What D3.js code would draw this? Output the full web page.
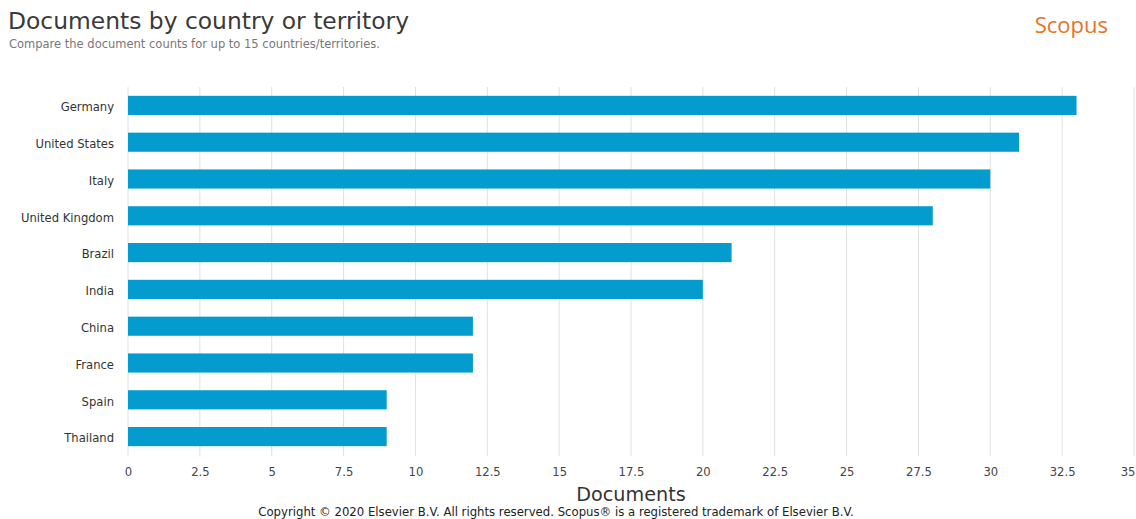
<!DOCTYPE html>
<html>
<head>
<meta charset="utf-8">
<script src="https://cdn.jsdelivr.net/npm/d3@7"></script>
<style>
  html, body { margin: 0; padding: 0; background: #fff; }
  svg { display: block; }
</style>
</head>
<body>
<svg id="chart" width="1136" height="519"></svg>
<script>
// Document counts per country or territory
const countries = ["Germany", "United States", "Italy", "United Kingdom", "Brazil",
                   "India", "China", "France", "Spain", "Thailand"];
const documents = [33, 31, 30, 28, 21, 20, 12, 12, 9, 9];
const xTicks = [0, 2.5, 5, 7.5, 10, 12.5, 15, 17.5, 20, 22.5, 25, 27.5, 30, 32.5, 35];

const svg = d3.select("#chart");
const font = "'DejaVu Sans', sans-serif";

const margin = { left: 128, right: 2, top: 87, bottom: 64 };
const width = 1136, height = 519;

const x = d3.scaleLinear().domain([0, 35]).range([margin.left, 1134]);
const y = d3.scaleBand().domain(countries)
  .range([margin.top, height - margin.bottom]).paddingInner(0.48).paddingOuter(0.24);

// Title block
svg.append("text").attr("x", 8).attr("y", 29)
  .attr("font-family", font).attr("font-size", 23.4).attr("fill", "#3a3a3a")
  .text("Documents by country or territory");
svg.append("text").attr("x", 9).attr("y", 48)
  .attr("font-family", font).attr("font-size", 11.5).attr("fill", "#777")
  .text("Compare the document counts for up to 15 countries/territories.");
svg.append("text").attr("x", 1108).attr("y", 33).attr("text-anchor", "end")
  .attr("font-family", "'Open Sans', 'Noto Sans', sans-serif").attr("font-size", 22)
  .attr("fill", "#e8731f")
  .text("Scopus");

// Vertical grid lines
svg.append("g").selectAll("line").data(xTicks).join("line")
  .attr("x1", d => x(d)).attr("x2", d => x(d))
  .attr("y1", margin.top).attr("y2", height - margin.bottom + 1)
  .attr("stroke", "#e0e0e0").attr("stroke-width", 1);

// Bars
svg.append("g").selectAll("rect").data(countries).join("rect")
  .attr("x", x(0))
  .attr("y", d => y(d))
  .attr("width", (d, i) => x(documents[i]) - x(0))
  .attr("height", y.bandwidth())
  .attr("fill", "#049ccf");

// Category axis
const yAxis = svg.append("g").attr("transform", `translate(${margin.left},0)`)
  .call(d3.axisLeft(y).tickSize(0).tickPadding(14));
yAxis.select(".domain").remove();
yAxis.selectAll("text").attr("font-family", font).attr("font-size", 11.6).attr("fill", "#333")
  .attr("dy", "0.5em");

// Value axis
const xAxis = svg.append("g").attr("transform", `translate(0,${height - margin.bottom})`)
  .call(d3.axisBottom(x).tickValues(xTicks).tickSize(0).tickPadding(13)
    .tickFormat(d3.format("~g")));
xAxis.select(".domain").remove();
xAxis.selectAll("text").attr("font-family", font).attr("font-size", 11.6).attr("fill", "#444");
// keep the last tick label inside the frame
xAxis.selectAll(".tick").filter(d => d === 35).select("text")
  .attr("text-anchor", "end").attr("dx", 1);

svg.append("text").attr("x", 631).attr("y", 501).attr("text-anchor", "middle")
  .attr("font-family", font).attr("font-size", 19.2).attr("fill", "#333")
  .text("Documents");

svg.append("text").attr("x", 556).attr("y", 516).attr("text-anchor", "middle")
  .attr("font-family", font).attr("font-size", 11.7).attr("fill", "#222")
  .text("Copyright © 2020 Elsevier B.V. All rights reserved. Scopus® is a registered trademark of Elsevier B.V.");
</script>
</body>
</html>
